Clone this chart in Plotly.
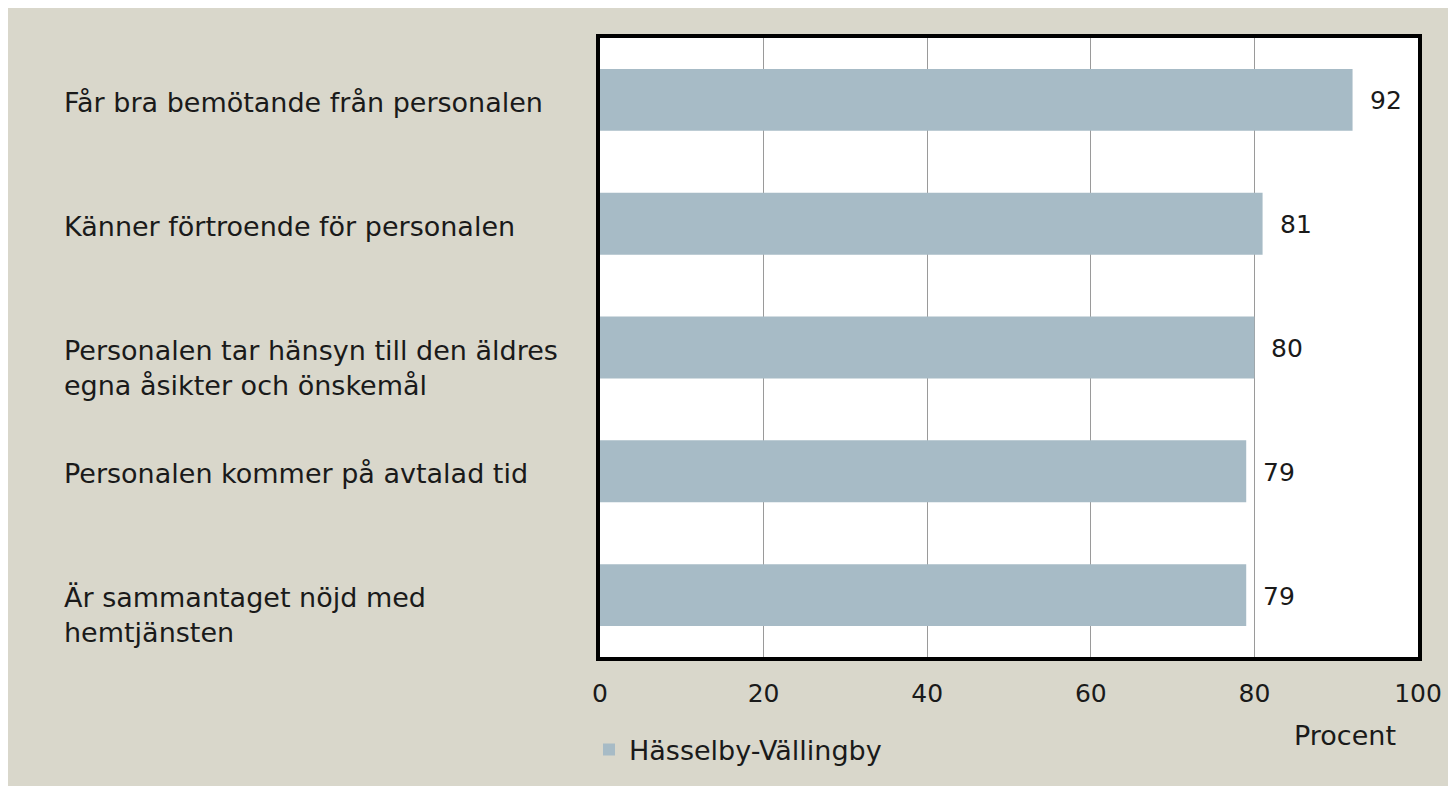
import plotly.graph_objects as go

categories = [
    "Får bra bemötande från personalen",
    "Känner förtroende för personalen",
    "Personalen tar hänsyn till den äldres<br>egna åsikter och önskemål",
    "Personalen kommer på avtalad tid",
    "Är sammantaget nöjd med<br>hemtjänsten",
]
values = [92, 81, 80, 79, 79]
series_name = "Hässelby-Vällingby"
x_ticks = [0, 20, 40, 60, 80, 100]
x_title = "Procent"

OFF = 8  # page body margin
W, H = 1456 - OFF, 786 - OFF
L, R, T, B = 600 - OFF, W - (1418 - OFF), 38 - OFF, H - (657 - OFF)
pw, ph = W - L - R, H - T - B

def px(xs):
    return (xs - OFF - L) / pw

def py(ys):
    return (H - B - (ys - OFF)) / ph

FONT = "DejaVu Sans"
BEIGE = "#D9D7CB"
BAR = "#A7BBC6"
TXT = "#1a1a1a"

fig = go.Figure()
fig.add_trace(go.Bar(
    y=categories, x=values, orientation="h", name=series_name,
    marker=dict(color=BAR, line=dict(width=0)), width=0.5,
    showlegend=True,
))

annotations = []
for c in categories:
    annotations.append(dict(
        x=px(62), xref="paper", y=c, yref="y", text=c, showarrow=False,
        xanchor="left", yanchor="top", align="left", yshift=15,
        font=dict(family=FONT, size=27, color=TXT),
    ))
for c, v in zip(categories, values):
    annotations.append(dict(
        x=v, xref="x", y=c, yref="y", text=str(v), showarrow=False,
        xanchor="left", yanchor="middle", xshift=15, yshift=-1,
        font=dict(family=FONT, size=25, color=TXT),
    ))
annotations.append(dict(
    x=px(1345), xref="paper", y=py(735), yref="paper", text=x_title,
    showarrow=False, xanchor="center", yanchor="middle",
    font=dict(family=FONT, size=27, color=TXT),
))

fig.update_layout(
    width=W, height=H,
    margin=dict(l=L, r=R, t=T, b=B, pad=0),
    paper_bgcolor=BEIGE, plot_bgcolor="white",
    font=dict(family=FONT, size=25, color=TXT),
    annotations=annotations,
    showlegend=True,
    legend=dict(orientation="h", x=px(589), xanchor="left", y=py(750), yanchor="middle",
                bgcolor="rgba(0,0,0,0)", font=dict(family=FONT, size=27, color=TXT)),
    bargap=0.5,
)
fig.update_xaxes(
    range=[0, 100], tickvals=x_ticks, showgrid=True, gridcolor="#9A9A9A", gridwidth=1,
    zeroline=False, showline=True, linecolor="black", linewidth=4, mirror=True,
    ticks="", ticklabelstandoff=11, tickfont=dict(family=FONT, size=25, color=TXT),
)
fig.update_yaxes(
    autorange="reversed", showticklabels=False, showgrid=False, zeroline=False,
    showline=True, linecolor="black", linewidth=4, mirror=True, ticks="",
)

fig.write_html("out.html")
